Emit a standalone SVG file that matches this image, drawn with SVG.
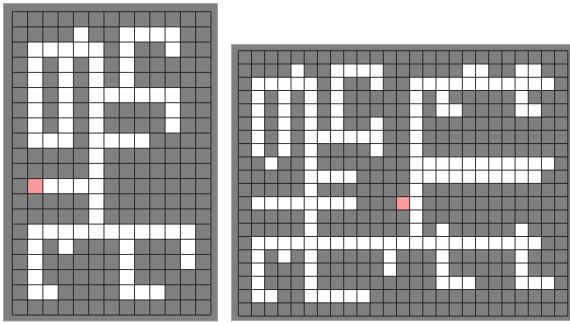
<svg xmlns="http://www.w3.org/2000/svg" width="570" height="323" viewBox="0 0 570 323">
<style>
.frame{fill:#808080;stroke:#a6a6a6;stroke-width:1}
.w{fill:#ffffff}
.p{fill:#ff9a9a}
.g{fill:none;stroke:#1e1e1e;stroke-width:1;stroke-opacity:0.9;vector-effect:non-scaling-stroke}
</style>
<rect width="570" height="323" fill="#ffffff"/>
<g id="left-grid">
<rect class="frame" x="3.5" y="3.5" width="214" height="317.5"/>
<g transform="translate(12.3,11.7) scale(15.28,15.17)">
<rect class="w" x="4" y="1" width="1" height="1"/><rect class="w" x="7" y="1" width="4" height="1"/>
<rect class="w" x="1" y="2" width="5" height="1"/><rect class="w" x="7" y="2" width="1" height="1"/><rect class="w" x="10" y="2" width="1" height="1"/>
<rect class="w" x="1" y="3" width="1" height="2"/><rect class="w" x="3" y="3" width="1" height="2"/><rect class="w" x="5" y="3" width="1" height="2"/><rect class="w" x="7" y="3" width="1" height="2"/>
<rect class="w" x="1" y="5" width="1" height="3"/><rect class="w" x="3" y="5" width="1" height="3"/><rect class="w" x="5" y="5" width="6" height="1"/>
<rect class="w" x="5" y="6" width="1" height="2"/><rect class="w" x="10" y="6" width="1" height="2"/>
<rect class="w" x="1" y="8" width="3" height="1"/><rect class="w" x="5" y="8" width="4" height="1"/>
<rect class="w" x="5" y="9" width="1" height="5"/>
<rect class="w" x="2" y="11" width="3" height="1"/><rect class="p" x="1" y="11" width="1" height="1"/>
<rect class="w" x="1" y="14" width="11" height="1"/>
<rect class="w" x="1" y="15" width="1" height="4"/><rect class="w" x="3" y="15" width="1" height="1"/><rect class="w" x="7" y="15" width="1" height="4"/><rect class="w" x="11" y="15" width="1" height="2"/>
<rect class="w" x="2" y="18" width="1" height="1"/><rect class="w" x="8" y="18" width="2" height="1"/>
<path class="g" d="M0 0V20M1 0V20M2 0V20M3 0V20M4 0V20M5 0V20M6 0V20M7 0V20M8 0V20M9 0V20M10 0V20M11 0V20M12 0V20M13 0V20M0 0H13M0 1H13M0 2H13M0 3H13M0 4H13M0 5H13M0 6H13M0 7H13M0 8H13M0 9H13M0 10H13M0 11H13M0 12H13M0 13H13M0 14H13M0 15H13M0 16H13M0 17H13M0 18H13M0 19H13M0 20H13"/>
</g>
</g>
<g id="right-grid">
<rect class="frame" x="231.5" y="44.5" width="345" height="276"/>
<g transform="translate(238.3,50.7) scale(13.18,13.27)">
<rect class="w" x="4" y="1" width="1" height="1"/><rect class="w" x="7" y="1" width="4" height="1"/><rect class="w" x="17" y="1" width="2" height="1"/><rect class="w" x="21" y="1" width="2" height="1"/>
<rect class="w" x="1" y="2" width="5" height="1"/><rect class="w" x="7" y="2" width="1" height="1"/><rect class="w" x="10" y="2" width="1" height="1"/><rect class="w" x="13" y="2" width="11" height="1"/>
<rect class="w" x="1" y="3" width="1" height="5"/><rect class="w" x="3" y="3" width="1" height="5"/><rect class="w" x="5" y="3" width="1" height="5"/><rect class="w" x="7" y="3" width="1" height="3"/>
<rect class="w" x="13" y="3" width="1" height="11"/><rect class="w" x="15" y="3" width="1" height="2"/><rect class="w" x="21" y="3" width="1" height="2"/>
<rect class="w" x="16" y="4" width="1" height="1"/><rect class="w" x="22" y="4" width="1" height="1"/>
<rect class="w" x="10" y="5" width="1" height="3"/>
<rect class="w" x="6" y="6" width="4" height="1"/>
<rect class="w" x="2" y="8" width="1" height="1"/><rect class="w" x="14" y="8" width="10" height="1"/>
<rect class="w" x="5" y="8" width="1" height="6"/>
<rect class="w" x="6" y="9" width="3" height="1"/><rect class="w" x="14" y="9" width="9" height="1"/>
<rect class="w" x="1" y="11" width="4" height="1"/><rect class="w" x="6" y="11" width="3" height="1"/><rect class="p" x="12" y="11" width="1" height="1"/>
<rect class="w" x="15" y="13" width="1" height="1"/><rect class="w" x="21" y="13" width="1" height="1"/>
<rect class="w" x="1" y="14" width="22" height="1"/>
<rect class="w" x="1" y="15" width="1" height="4"/><rect class="w" x="3" y="15" width="1" height="1"/><rect class="w" x="5" y="15" width="1" height="4"/><rect class="w" x="11" y="15" width="1" height="2"/>
<rect class="w" x="15" y="15" width="1" height="3"/><rect class="w" x="21" y="15" width="1" height="3"/>
<rect class="w" x="16" y="17" width="2" height="1"/><rect class="w" x="22" y="17" width="2" height="1"/>
<rect class="w" x="2" y="18" width="1" height="1"/><rect class="w" x="6" y="18" width="4" height="1"/>
<path class="g" d="M0 0V20M1 0V20M2 0V20M3 0V20M4 0V20M5 0V20M6 0V20M7 0V20M8 0V20M9 0V20M10 0V20M11 0V20M12 0V20M13 0V20M14 0V20M15 0V20M16 0V20M17 0V20M18 0V20M19 0V20M20 0V20M21 0V20M22 0V20M23 0V20M24 0V20M25 0V20M0 0H25M0 1H25M0 2H25M0 3H25M0 4H25M0 5H25M0 6H25M0 7H25M0 8H25M0 9H25M0 10H25M0 11H25M0 12H25M0 13H25M0 14H25M0 15H25M0 16H25M0 17H25M0 18H25M0 19H25M0 20H25"/>
</g>
</g>
</svg>
